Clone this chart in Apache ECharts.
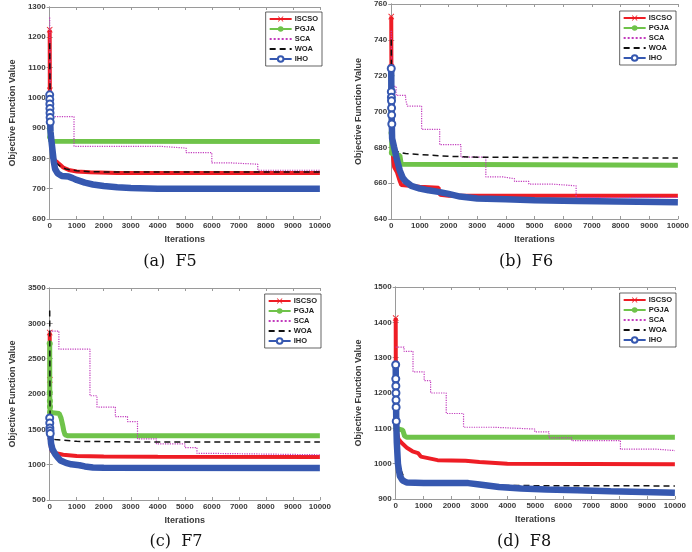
<!DOCTYPE html>
<html>
<head>
<meta charset="utf-8">
<script src="https://cdn.jsdelivr.net/npm/echarts@6/dist/echarts.min.js"></script>
<style>
  html, body { margin: 0; padding: 0; background: #fff; }
  #page { position: relative; width: 692px; height: 552px; overflow: hidden; }
  .panel { position: absolute; }
</style>
</head>
<body>
<div id="page">
  <div class="panel" id="pa" style="left:0;top:0;width:334px;height:276px"></div>
  <div class="panel" id="pb" style="left:346px;top:0;width:346px;height:276px"></div>
  <div class="panel" id="pc" style="left:0;top:276px;width:334px;height:276px"></div>
  <div class="panel" id="pd" style="left:346px;top:276px;width:343px;height:276px"></div>
</div>
<script>
// algorithm names (legend order = draw order)
const algos = ['ISCSO', 'PGJA', 'SCA', 'WOA', 'IHO'];
const xTicks = [0, 10000, 1000];

// F5 convergence curves [iteration, value]
const f5_iscso = [[0,1225],[5,1025],[10,960],[20,910],[40,870],[60,845],[100,815],[150,800],[200,793],[300,786],[400,778],[500,770],[700,762],[1000,757],[1500,754],[2500,752],[10000,752]];
const f5_pgja = [[0,975],[3,950],[6,930],[10,900],[20,870],[40,857],[10000,856]];
const f5_sca = [[0,1265],[30,938],[900,840],[4100,834],[5050,819],[6000,785],[6750,781],[7700,761],[10000,761]];
const f5_woa = [[0,1180],[10,1050],[20,950],[40,870],[70,830],[100,812],[150,800],[250,785],[400,773],[600,765],[1000,759],[1500,756],[2500,755],[10000,755]];
const f5_iho = [[0,1010],[3,995],[6,980],[9,965],[12,950],[16,935],[20,920],[30,890],[50,870],[100,830],[150,790],[200,765],[300,750],[450,742],[700,740],[850,735],[1000,729],[1300,720],[1600,714],[2000,709],[2500,705],[3000,702],[4000,700],[10000,700]];

// F6
const f6_iscso = [[0,753],[5,725],[10,705],[20,690],[40,680],[70,673],[100,669],[200,666],[300,661],[350,659],[400,658.5],[1000,658],[1650,657.5],[1700,653.5],[2000,653],[10000,653]];
const f6_pgja = [[0,720],[5,700],[10,688],[20,677],[100,676],[300,675.5],[350,670.5],[400,670],[10000,670]];
const f6_sca = [[0,745],[30,714],[170,709],[500,707],[560,703],[1060,690],[1690,681.5],[2430,674.5],[3300,663.5],[3900,662.5],[4300,661],[4800,659.5],[5600,658.5],[6450,652],[10000,652]];
const f6_woa = [[0,740],[10,715],[20,695],[40,685],[100,678],[500,676.5],[1000,676],[2000,675],[3000,674.5],[10000,674]];
const f6_iho = [[0,724],[3,711],[6,708],[9,706],[12,702],[15,698],[20,693],[30,685],[100,680],[200,673],[300,667],[400,663],[500,661],[700,658.5],[1000,657],[1300,656],[1700,655],[2000,654],[2400,652.5],[3000,651.5],[4000,651],[5000,650.5],[6500,650],[10000,649.3]];

// F7
const f7_iscso = [[0,2870],[5,2200],[10,1700],[20,1400],[40,1250],[80,1190],[200,1165],[500,1140],[1000,1122],[2000,1114],[4000,1112],[10000,1110]];
const f7_pgja = [[0,2715],[3,2020],[6,1900],[10,1820],[15,1740],[30,1725],[350,1725],[420,1660],[480,1560],[520,1480],[570,1420],[650,1410],[10000,1408]];
const f7_sca = [[0,2890],[340,2635],[1490,1975],[1750,1815],[2430,1680],[2880,1610],[3250,1365],[3950,1295],[5000,1240],[5450,1160],[5950,1140],[10000,1140]];
const f7_woa = [[0,3180],[5,2500],[10,1900],[20,1500],[40,1450],[100,1380],[200,1355],[1000,1330],[3000,1322],[10000,1320]];
const f7_iho = [[0,1660],[3,1590],[6,1520],[10,1480],[20,1440],[50,1300],[100,1220],[200,1150],[300,1100],[400,1060],[600,1025],[800,1005],[1100,992],[1300,975],[1600,960],[2000,956],[10000,953]];

// F8
const f8_iscso = [[0,1412],[5,1200],[10,1130],[20,1100],[50,1085],[100,1070],[200,1060],[400,1045],[600,1035],[800,1030],[900,1020],[1200,1015],[1500,1010],[2500,1008],[3000,1005],[4000,1000],[10000,998]];
const f8_pgja = [[0,1280],[3,1220],[6,1170],[10,1130],[20,1100],[50,1095],[250,1095],[320,1078],[400,1075],[10000,1075]];
const f8_sca = [[0,1330],[300,1318],[620,1260],[1020,1235],[1250,1200],[1810,1142],[2430,1103],[3500,1098],[4980,1090],[5490,1073],[6300,1065],[8050,1041],[9350,1037],[10000,1037]];
const f8_woa = [[0,1150],[20,1050],[50,1010],[150,990],[300,960],[400,950],[1000,940],[2600,940],[4000,938],[10000,937]];
const f8_iho = [[0,1280],[3,1240],[6,1220],[9,1200],[12,1180],[15,1160],[20,1120],[40,1060],[80,1000],[150,965],[250,952],[400,947],[1000,945],[2600,945],[3000,941],[3700,934],[4500,930],[5400,927],[6500,925],[7700,922],[10000,918]];

// y ranges [min, max, step]
const f5_y = [600, 1300, 100];
const f6_y = [640, 760, 20];
const f7_y = [500, 3500, 500];
const f8_y = [900, 1500, 100];

const crossPath = 'path://M0,1L1,0L5,4L9,0L10,1L6,5L10,9L9,10L5,6L1,10L0,9L4,5Z';
const styles = {
  ISCSO: { color: '#ee1d25', width: 4, type: 'solid', symbol: crossPath, size: 6 },
  PGJA:  { color: '#6fc34a', width: 5, type: 'solid', symbol: 'circle', size: 6 },
  SCA:   { color: '#c23bbd', width: 1.2, type: 'dotted', symbol: 'none', size: 0 },
  WOA:   { color: '#111111', width: 1.5, type: [6, 4], symbol: 'none', size: 0 },
  IHO:   { color: '#3658b0', width: 6.5, type: 'solid', symbol: 'emptyCircle', size: 7 }
};

const axisGray = '#9a9a9a';
const labelFont = { fontFamily: 'Liberation Sans', fontWeight: 'bold', fontSize: 8, color: '#3a3a3a', formatter: v => String(v) };

function build(id, curves, yr, grid, legendPos, caption, capPos, yGap) {
  const chart = echarts.init(document.getElementById(id), null, { renderer: 'canvas' });
  const series = algos.map((name, i) => {
    const s = styles[name];
    return {
      name: name,
      type: 'line',
      step: name === 'SCA' ? 'end' : false,
      xAxisIndex: 0, yAxisIndex: 0,
      symbol: s.symbol,
      symbolSize: s.size,
      showSymbol: s.symbol !== 'none',
      z: 2 + i,
      lineStyle: { color: s.color, width: s.width, type: s.type },
      itemStyle: { color: s.color, borderColor: s.color, borderWidth: name === 'IHO' ? 1.5 : 0 },
      data: curves[i].map(p => p[0] <= 20 ? { value: p } : { value: p, symbol: 'none' }),
      animation: false
    };
  });
  const xBase = {
    type: 'value', min: xTicks[0], max: xTicks[1], interval: xTicks[2],
    axisLine: { show: true, lineStyle: { color: axisGray, width: 1 } },
    axisTick: { show: true, inside: true, length: 3, lineStyle: { color: axisGray } },
    splitLine: { show: false }
  };
  const yBase = {
    type: 'value', min: yr[0], max: yr[1], interval: yr[2],
    axisLine: { show: true, lineStyle: { color: axisGray, width: 1 } },
    axisTick: { show: true, inside: true, length: 3, lineStyle: { color: axisGray } },
    splitLine: { show: false }
  };
  const legendData = algos.map(name => styles[name].symbol === 'none'
    ? { name: name, itemStyle: { opacity: 0 } }
    : { name: name });
  chart.setOption({
    animation: false,
    grid: grid,
    xAxis: [
      Object.assign({}, xBase, {
        position: 'bottom', name: 'Iterations', nameLocation: 'middle', nameGap: 13,
        nameTextStyle: { fontFamily: 'Liberation Sans', fontWeight: 'bold', fontSize: 9, color: '#3a3a3a' },
        axisLabel: Object.assign({ margin: 3 }, labelFont)
      }),
      Object.assign({}, xBase, { position: 'top', axisLabel: { show: false } })
    ],
    yAxis: [
      Object.assign({}, yBase, {
        position: 'left', name: 'Objective Function Value', nameLocation: 'middle', nameGap: yGap,
        nameTextStyle: { fontFamily: 'Liberation Sans', fontWeight: 'bold', fontSize: 9, color: '#3a3a3a' },
        axisLabel: Object.assign({ margin: 4 }, labelFont)
      }),
      Object.assign({}, yBase, { position: 'right', axisLabel: { show: false } })
    ],
    legend: Object.assign({
      orient: 'vertical',
      data: legendData,
      itemWidth: 22, itemHeight: 7, itemGap: 2,
      padding: [3, 4, 3, 3],
      borderColor: '#222', borderWidth: 0.7, borderRadius: 0,
      backgroundColor: '#fff',
      lineStyle: { width: 2 },
      textStyle: { fontFamily: 'Liberation Sans', fontWeight: 'bold', fontSize: 7.5, color: '#222', padding: [0, 0, 0, -2] }
    }, legendPos),
    graphic: [{
      type: 'text', x: capPos[0], y: capPos[1],
      style: { text: caption, fill: '#111', font: '16px "DejaVu Serif"', align: 'center', verticalAlign: 'middle' }
    }],
    series: series
  });
}

build('pa', [f5_iscso, f5_pgja, f5_sca, f5_woa, f5_iho], f5_y,
  { left: 35, top: 7, width: 294, height: 212 },
  { right: 12, top: 12 }, '(a)  F5', [170, 262], 22);
build('pb', [f6_iscso, f6_pgja, f6_sca, f6_woa, f6_iho], f6_y,
  { left: 39, top: 3, width: 298, height: 216 },
  { right: 16, top: 11 }, '(b)  F6', [180, 262], 20);
build('pc', [f7_iscso, f7_pgja, f7_sca, f7_woa, f7_iho], f7_y,
  { left: 32, top: 12, width: 293, height: 212 },
  { right: 13, top: 18 }, '(c)  F7', [176, 266], 24);
build('pd', [f8_iscso, f8_pgja, f8_sca, f8_woa, f8_iho], f8_y,
  { left: 40, top: 11, width: 294, height: 212 },
  { right: 13, top: 17 }, '(d)  F8', [178, 266], 22);
</script>
</body>
</html>
